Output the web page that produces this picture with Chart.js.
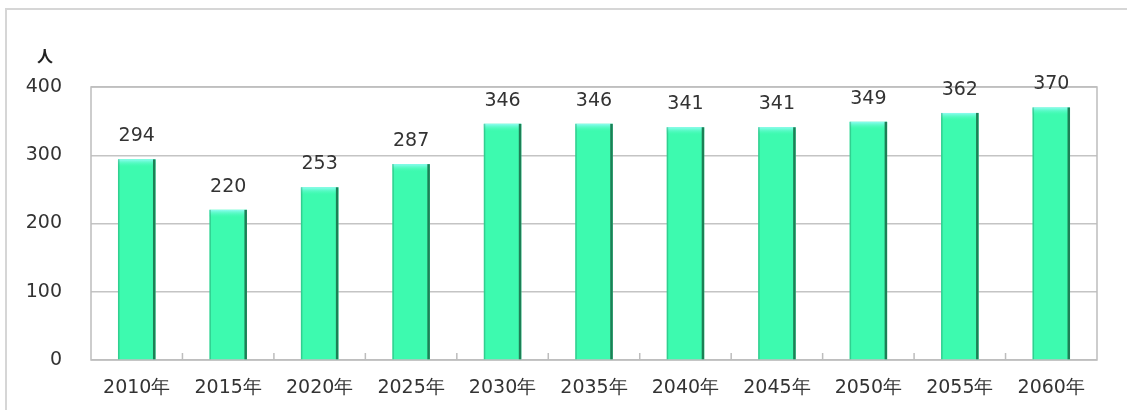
<!DOCTYPE html>
<html>
<head>
<meta charset="utf-8">
<script src="https://cdn.jsdelivr.net/npm/chart.js@4"></script>
<style>
  html, body { margin: 0; background: #fff; overflow: hidden; }
  #wrap { position: relative; width: 1127px; height: 410px; overflow: hidden; }
  #frame { position: absolute; left: 5px; top: 8px; width: 1200px; height: 500px; border-left: 2px solid #d6d6d6; border-top: 2px solid #d6d6d6; }
  canvas { position: absolute; left: 0; top: 0; }
</style>
</head>
<body>
<div id="wrap">
  <div id="frame"></div>
  <canvas id="chart" width="1127" height="410"></canvas>
</div>
<script>
const years = ["2010年", "2015年", "2020年", "2025年", "2030年", "2035年", "2040年", "2045年", "2050年", "2055年", "2060年"];
const people = [294, 220, 253, 287, 346, 346, 341, 341, 349, 362, 370];
const yTicks = [0, 100, 200, 300, 400];
const unitLabel = "人";

const textColor = "#333333";
const fontFam = "'DejaVu Sans', Verdana, sans-serif";

// draws frame, small ticks, value labels and bar shading
const extras = {
  id: "extras",
  beforeDatasetsDraw(chart) {
    const { ctx, chartArea: a, scales } = chart;
    ctx.save();
    ctx.strokeStyle = "#bdbdbd";
    ctx.lineWidth = 1.5;
    ctx.strokeRect(a.left, a.top, a.right - a.left, a.bottom - a.top);
    // little upward ticks between categories
    const x = scales.x;
    ctx.beginPath();
    for (let i = 0; i < years.length - 1; i++) {
      const px = (x.getPixelForValue(i) + x.getPixelForValue(i + 1)) / 2;
      ctx.moveTo(px, a.bottom);
      ctx.lineTo(px, a.bottom - 7);
    }
    ctx.stroke();
    ctx.restore();
  },
  afterDatasetsDraw(chart) {
    const { ctx, chartArea: a } = chart;
    const meta = chart.getDatasetMeta(0);
    ctx.save();
    meta.data.forEach((bar, i) => {
      const left = bar.x - bar.width / 2;
      const right = bar.x + bar.width / 2;
      // top highlight
      const g = ctx.createLinearGradient(0, bar.y, 0, bar.y + 8);
      g.addColorStop(0, "#8ffcf2");
      g.addColorStop(1, "rgba(61,250,175,0)");
      ctx.fillStyle = g;
      ctx.fillRect(left, bar.y, bar.width, 8);
      // dark right edge
      ctx.fillStyle = "#1d7f55";
      ctx.fillRect(right - 2.5, bar.y, 2.5, bar.base - bar.y);
      ctx.fillStyle = "rgba(29,127,85,0.35)";
      ctx.fillRect(left, bar.y, 1.5, bar.base - bar.y);
      // value label
      ctx.fillStyle = textColor;
      ctx.font = "19px " + fontFam;
      ctx.textAlign = "center";
      ctx.textBaseline = "middle";
      ctx.fillText(String(people[i]), bar.x, bar.y - 23);
    });
    // unit label
    ctx.font = "bold 16px 'Noto Sans CJK JP', sans-serif";
    ctx.textAlign = "center";
    ctx.fillStyle = "#222";
    ctx.fillText(unitLabel, a.left - 46, a.top - 31);
    ctx.restore();
  }
};

new Chart(document.getElementById("chart"), {
  type: "bar",
  data: {
    labels: years,
    datasets: [{
      data: people,
      backgroundColor: "#3dfaaf",
      borderWidth: 0,
      barPercentage: 0.41,
      categoryPercentage: 1.0
    }]
  },
  options: {
    responsive: false,
    animation: false,
    layout: { padding: { top: 87, right: 30, left: 0, bottom: 0 } },
    plugins: { legend: { display: false }, tooltip: { enabled: false } },
    scales: {
      x: {
        grid: { display: false, drawTicks: false },
        border: { display: false },
        ticks: { color: textColor, font: { family: fontFam, size: 19 }, padding: 17, maxRotation: 0 },
        afterFit(axis) { axis.height = 50; }
      },
      y: {
        min: 0,
        max: 400,
        afterBuildTicks(axis) { axis.ticks = yTicks.map(v => ({ value: v })); },
        grid: { color: "#c4c4c4", lineWidth: 1.5, drawTicks: false },
        border: { display: false },
        ticks: { color: textColor, font: { family: fontFam, size: 19 }, padding: 29 },
        afterFit(axis) { axis.width = 91; }
      }
    }
  },
  plugins: [extras]
});
</script>
</body>
</html>
